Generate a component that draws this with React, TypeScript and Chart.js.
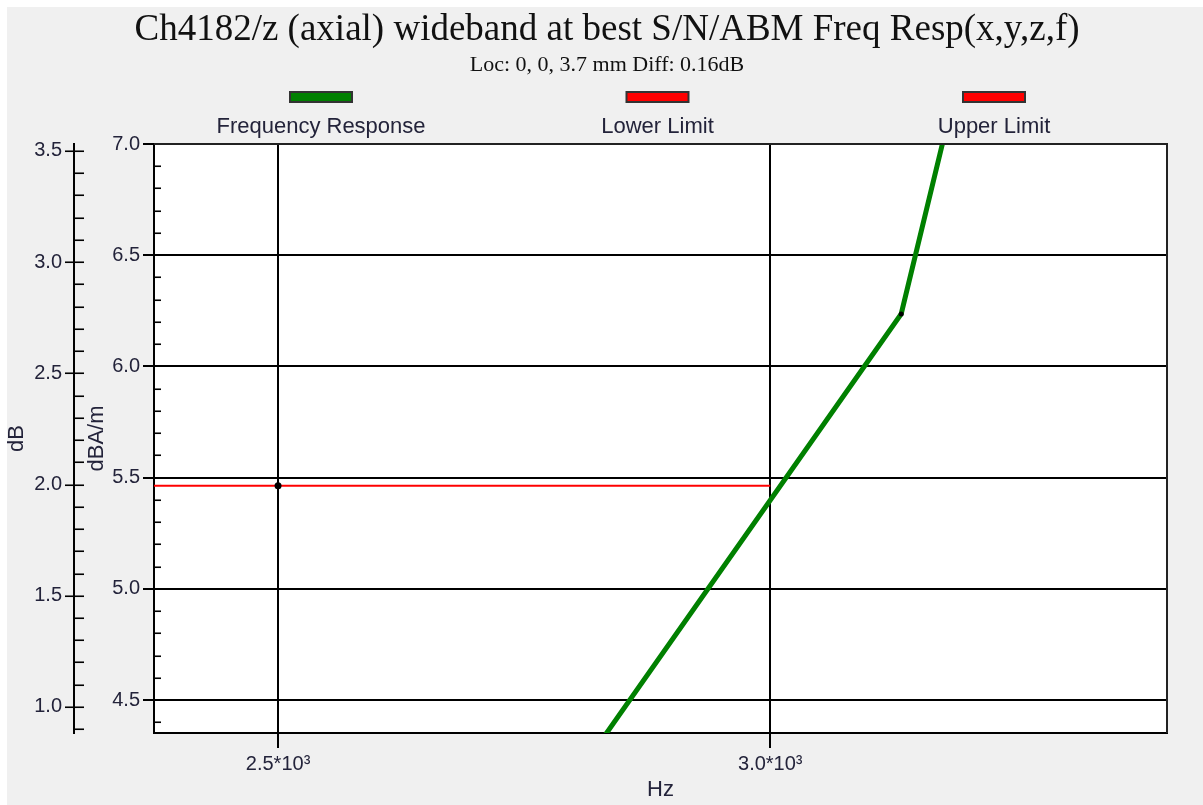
import React, { useEffect, useRef } from 'react';
import { Chart, registerables } from 'chart.js';

Chart.register(...registerables);

const titleText = 'Ch4182/z (axial) wideband at best S/N/ABM Freq Resp(x,y,z,f)';
const subtitleText = 'Loc: 0, 0, 3.7 mm Diff: 0.16dB';

const seriesNames = ['Frequency Response', 'Lower Limit', 'Upper Limit'];
const seriesColors = ['#008000', '#ff0000', '#ff0000'];

const freqRespHz = [2700, 3133, 3200];
const freqRespDbaM = [3.51, 6.236, 7.46];
const lowerLimitHz = [2000, 2500, 3000];
const lowerLimitDbaM = [5.464, 5.464, 5.464];
const upperLimitHz: number[] = [];
const upperLimitDbaM: number[] = [];

const xTicksHz = [2500, 3000];
const xTickLabels = ['2.5*10³', '3.0*10³'];
const yTicksDbaM = [4.5, 5.0, 5.5, 6.0, 6.5, 7.0];
const yTicksDb = [1.0, 1.5, 2.0, 2.5, 3.0, 3.5];
const xRange = [2374, 3403];
const yRange = [4.352, 7.0];
const y1Range = [0.883, 3.531];

const SANS = '"Liberation Sans", Arial, sans-serif';
const SERIF = '"Liberation Serif", "Times New Roman", serif';
const TEXT = '#23233a';

const toPts = (xs: number[], ys: number[]) => xs.map((x, i) => ({ x, y: ys[i] }));

const decor = {
  id: 'decor',
  beforeDraw(chart: any) {
    const { ctx, width, height, chartArea: a } = chart;
    ctx.save();
    ctx.fillStyle = '#f0f0f0';
    ctx.fillRect(0, 0, width, height);
    ctx.fillStyle = '#ffffff';
    ctx.fillRect(0, 0, width, 7);
    ctx.fillRect(0, 0, 7, height);
    ctx.fillRect(a.left, a.top, a.right - a.left, a.bottom - a.top);
    ctx.restore();
  },
  afterDraw(chart: any) {
    const { ctx, chartArea: a, scales } = chart;
    ctx.save();
    // titles
    ctx.fillStyle = '#111';
    ctx.textAlign = 'center';
    ctx.textBaseline = 'alphabetic';
    ctx.font = '37px ' + SERIF;
    ctx.fillText(titleText, 607, 40);
    ctx.font = '22px ' + SERIF;
    ctx.fillText(subtitleText, 607, 71);
    // legend
    const mid = (a.left + a.right) / 2 - 3;
    chart.data.datasets.forEach((ds: any, i: number) => {
      const x = mid + (i - 1) * 336.5;
      ctx.fillStyle = ds.borderColor;
      ctx.fillRect(x - 31, 92, 62, 10);
      ctx.strokeStyle = '#333';
      ctx.lineWidth = 2;
      ctx.strokeRect(x - 31, 92, 62, 10);
      ctx.fillStyle = TEXT;
      ctx.font = '22px ' + SANS;
      ctx.fillText(ds.label, x, 133);
    });
    // top/right border
    ctx.strokeStyle = '#222';
    ctx.lineWidth = 2;
    ctx.beginPath();
    ctx.moveTo(a.left, a.top);
    ctx.lineTo(a.right, a.top);
    ctx.lineTo(a.right, a.bottom);
    ctx.stroke();
    // minor ticks on dBA/m axis (inside plot)
    ctx.strokeStyle = '#000';
    ctx.lineWidth = 1.6;
    const ys = scales.y;
    for (let k = 44; k <= 70; k++) {
      if (k % 5 === 0) continue;
      const py = Math.round(ys.getPixelForValue(k / 10)) + 0.25;
      ctx.beginPath();
      ctx.moveTo(a.left, py);
      ctx.lineTo(a.left + 7, py);
      ctx.stroke();
    }
    // ticks on dB axis
    const y1 = scales.y1;
    const ax = y1.right;
    for (let k = 9; k <= 35; k++) {
      const py = Math.round(y1.getPixelForValue(k / 10)) + 0.25;
      const major = k % 5 === 0;
      ctx.beginPath();
      ctx.moveTo(major ? ax - 9 : ax, py);
      ctx.lineTo(ax + 10, py);
      ctx.stroke();
    }
    ctx.restore();
  },
};

export default function App() {
  const ref = useRef<HTMLCanvasElement | null>(null);
  useEffect(() => {
    if (!ref.current) return;
    const chart = new Chart(ref.current, {
      type: 'line',
      data: {
        datasets: [
          {
            label: seriesNames[0],
            data: toPts(freqRespHz, freqRespDbaM),
            borderColor: seriesColors[0],
            backgroundColor: seriesColors[0],
            borderWidth: 5,
            pointRadius: 2.5,
            pointBackgroundColor: '#000',
            pointBorderWidth: 0,
            tension: 0,
            clip: 0,
            yAxisID: 'y',
          },
          {
            label: seriesNames[1],
            data: toPts(lowerLimitHz, lowerLimitDbaM),
            borderColor: seriesColors[1],
            backgroundColor: seriesColors[1],
            borderWidth: 2,
            pointRadius: [0, 3.5, 0],
            pointBackgroundColor: '#000',
            pointBorderWidth: 0,
            tension: 0,
            clip: 0,
            yAxisID: 'y',
          },
          {
            label: seriesNames[2],
            data: toPts(upperLimitHz, upperLimitDbaM),
            borderColor: seriesColors[2],
            backgroundColor: seriesColors[2],
            borderWidth: 2,
            pointRadius: 0,
            clip: 0,
            yAxisID: 'y',
          },
        ],
      } as any,
      options: {
        responsive: false,
        animation: false,
        devicePixelRatio: 1,
        layout: { padding: { top: 144, right: 36, bottom: 0, left: 0 } },
        plugins: {
          legend: { display: false },
          title: { display: false },
          tooltip: { enabled: false },
        },
        scales: {
          x: {
            type: 'linear',
            min: xRange[0],
            max: xRange[1],
            afterBuildTicks: (s: any) => {
              s.ticks = xTicksHz.map((v) => ({ value: v }));
            },
            afterFit: (s: any) => {
              s.height = 72;
            },
            ticks: {
              callback: (v: any) => xTickLabels[xTicksHz.indexOf(Number(v))],
              font: { family: SANS, size: 20 },
              color: TEXT,
              padding: 4,
              autoSkip: false,
              maxRotation: 0,
            },
            grid: { color: '#000', lineWidth: 2, tickLength: 15 },
            border: { color: '#000', width: 2 },
            title: {
              display: true,
              text: 'Hz',
              font: { family: SANS, size: 22 },
              color: TEXT,
              padding: { top: 0, bottom: 2 },
            },
          },
          y: {
            type: 'linear',
            position: 'left',
            weight: 0,
            min: yRange[0],
            max: yRange[1],
            afterBuildTicks: (s: any) => {
              s.ticks = yTicksDbaM.map((v) => ({ value: v }));
            },
            afterFit: (s: any) => {
              s.width = 80;
            },
            ticks: {
              callback: (v: any) => Number(v).toFixed(1),
              font: { family: SANS, size: 20 },
              color: TEXT,
              padding: 3,
            },
            grid: { color: '#000', lineWidth: 2, tickLength: 11 },
            border: { color: '#000', width: 2 },
            title: {
              display: true,
              text: 'dBA/m',
              font: { family: SANS, size: 22 },
              color: TEXT,
              padding: { top: 10, bottom: 0 },
            },
          },
          y1: {
            type: 'linear',
            position: 'left',
            weight: 10,
            min: y1Range[0],
            max: y1Range[1],
            afterBuildTicks: (s: any) => {
              s.ticks = yTicksDb.map((v) => ({ value: v }));
            },
            afterFit: (s: any) => {
              s.width = 74;
            },
            ticks: {
              callback: (v: any) => Number(v).toFixed(1),
              font: { family: SANS, size: 20 },
              color: TEXT,
              padding: 12,
            },
            grid: { display: false, drawTicks: false, drawOnChartArea: false },
            border: { display: true, color: '#000', width: 2 },
            title: {
              display: true,
              text: 'dB',
              font: { family: SANS, size: 22 },
              color: TEXT,
              padding: { top: 4, bottom: 0 },
            },
          },
        },
      } as any,
      plugins: [decor],
    });
    return () => chart.destroy();
  }, []);
  return (
    <div style={{ position: 'fixed', left: 0, top: 0, width: 1203, height: 805 }}>
      <canvas ref={ref} width={1203} height={805} style={{ display: 'block' }} />
    </div>
  );
}
